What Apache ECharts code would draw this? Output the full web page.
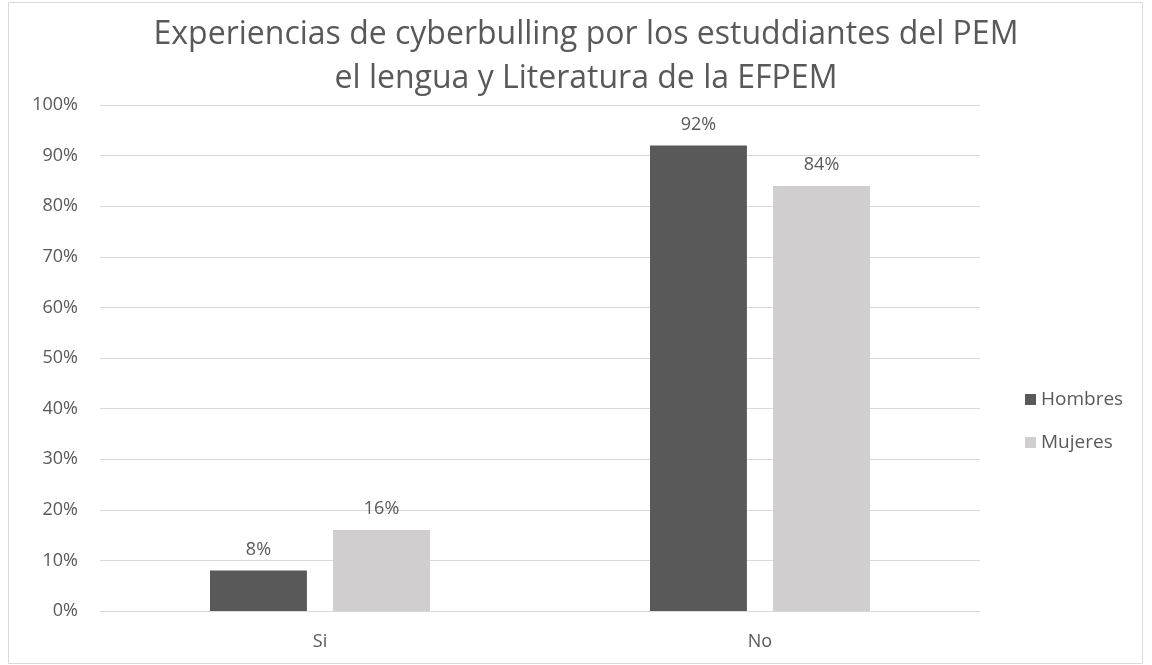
<!DOCTYPE html>
<html>
<head>
<meta charset="utf-8">
<script src="https://cdn.jsdelivr.net/npm/echarts@6/dist/echarts.min.js"></script>
<style>
  html, body { margin: 0; padding: 0; background: #fff; }
  #main { width: 1152px; height: 665px; }
</style>
</head>
<body>
<div id="main"></div>
<script>
const categories = ['Si', 'No']
const hombres = [8, 92]
const mujeres = [16, 84]
const yTicks = [0, 10, 20, 30, 40, 50, 60, 70, 80, 90, 100]

const font = '"Open Sans", sans-serif'
const textColor = '#595959'

const myChart = echarts.init(document.getElementById('main'))
const option = {
  backgroundColor: '#fff',
  textStyle: { fontFamily: font },
  graphic: [{
    type: 'rect',
    shape: { x: 8.5, y: 2.5, width: 1134, height: 661 },
    style: { fill: 'none', stroke: '#d9d9d9', lineWidth: 1 }
  }],
  title: {
    text: 'Experiencias de cyberbulling por los estuddiantes del PEM\nel lengua y Literatura de la EFPEM',
    left: 581,
    textAlign: 'center',
    top: 8,
    textStyle: {
      fontFamily: font,
      fontWeight: 'normal',
      fontSize: 32,
      lineHeight: 44,
      color: textColor
    }
  },
  legend: {
    orient: 'vertical',
    left: 1020,
    top: 385,
    itemWidth: 11,
    itemHeight: 11,
    itemGap: 24,
    icon: 'rect',
    textStyle: { fontSize: 19, color: textColor, fontFamily: font },
    data: ['Hombres', 'Mujeres']
  },
  grid: {
    left: 100,
    right: 172,
    top: 105,
    bottom: 54,
    containLabel: false
  },
  xAxis: {
    type: 'category',
    data: categories,
    axisLine: { lineStyle: { color: '#d9d9d9' } },
    axisTick: { show: false },
    axisLabel: { fontSize: 18, color: textColor, margin: 22, fontFamily: font }
  },
  yAxis: {
    type: 'value',
    min: yTicks[0],
    max: yTicks[yTicks.length - 1],
    interval: 10,
    axisLine: { show: false },
    axisTick: { show: false },
    splitLine: { lineStyle: { color: '#d9d9d9', width: 1 } },
    axisLabel: {
      fontSize: 18,
      color: textColor,
      margin: 22,
      fontFamily: font,
      formatter: v => v + '%'
    }
  },
  series: [
    {
      name: 'Hombres',
      type: 'bar',
      data: hombres,
      barGap: '27%',
      barCategoryGap: '50%',
      itemStyle: { color: '#595959' },
      label: {
        show: true,
        position: 'top',
        distance: 12,
        fontSize: 18,
        color: textColor,
        fontFamily: font,
        formatter: p => p.value + '%'
      }
    },
    {
      name: 'Mujeres',
      type: 'bar',
      data: mujeres,
      itemStyle: { color: '#d0cece' },
      label: {
        show: true,
        position: 'top',
        distance: 12,
        fontSize: 18,
        color: textColor,
        fontFamily: font,
        formatter: p => p.value + '%'
      }
    }
  ]
}
myChart.setOption(option)
</script>
</body>
</html>
